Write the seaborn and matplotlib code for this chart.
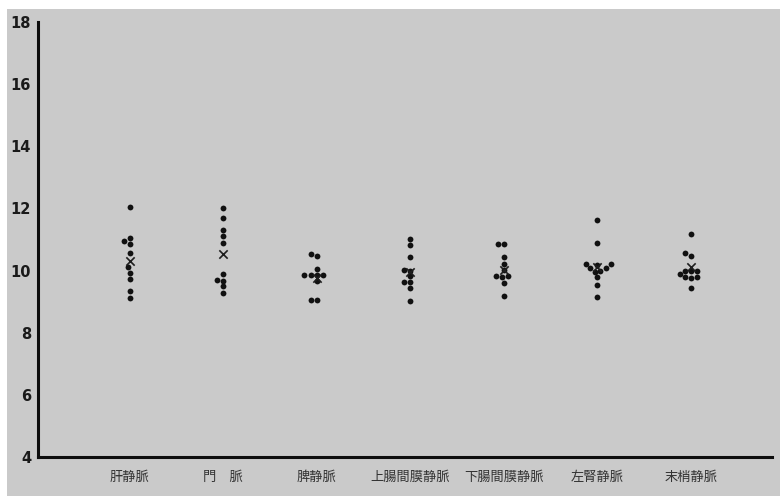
import numpy as np
import pandas as pd
import matplotlib
matplotlib.use("Agg")
import matplotlib.pyplot as plt
import seaborn as sns

# ---- data ----
categories = ["肝静脈", "門　脈", "脾静脈", "上腸間膜静脈", "下腸間膜静脈", "左腎静脈", "末梢静脈"]
hepatic = [12.06, 11.05, 10.94, 10.84, 10.56, 10.11, 9.93, 9.72, 9.35, 9.12]
portal = [12.02, 11.70, 11.29, 11.10, 10.88, 9.89, 9.70, 9.68, 9.49, 9.28]
splenic = [10.48, 10.54, 10.05, 9.86, 9.86, 9.65, 9.87, 9.85, 9.05, 9.05]
sup_mesenteric = [11.03, 10.83, 10.43, 10.02, 9.81, 10.00, 9.62, 9.62, 9.43, 9.03]
inf_mesenteric = [10.85, 10.85, 10.43, 10.21, 10.02, 9.78, 9.81, 9.81, 9.60, 9.19]
left_renal = [11.64, 10.90, 10.20, 10.20, 10.17, 10.00, 10.09, 10.09, 9.95, 9.78, 9.54, 9.16]
peripheral = [11.18, 10.58, 10.48, 10.00, 10.00, 9.98, 9.89, 9.78, 9.78, 9.76, 9.45]
means = [10.32, 10.52, 9.76, 9.97, 10.03, 10.11, 10.11]
y_ticks = [4, 6, 8, 10, 12, 14, 16, 18]
y_tick_labels = ["4", "6", "8", "10", "12", "14", "16", "18"]

series = [hepatic, portal, splenic, sup_mesenteric, inf_mesenteric, left_renal, peripheral]
df = pd.DataFrame({
    "site": [c for c, s in zip(categories, series) for _ in s],
    "value": [v for s in series for v in s],
})
mean_df = pd.DataFrame({"site": categories, "value": means})

sns.set_style("white")
plt.rcParams["font.family"] = ["Noto Sans CJK JP", "DejaVu Sans"]

paper = "#cacaca"
fig = plt.figure(figsize=(7.8, 4.96), dpi=100)
fig.patch.set_facecolor("white")
# photographed page area (white margin at top and left)
fig.patches.append(plt.Rectangle((7 / 780, 0), 1, 1 - 9 / 496, transform=fig.transFigure,
                                 facecolor=paper, edgecolor="none", zorder=-10))

ax = fig.add_axes([38 / 780, 1 - 457 / 496, (772 - 38) / 780, (457 - 22) / 496])
ax.set_facecolor("none")

sns.swarmplot(data=df, x="site", y="value", order=categories, color="#111111",
              size=4.2, linewidth=0, ax=ax)
sns.stripplot(data=mean_df, x="site", y="value", order=categories, marker="x",
              color="#1e1e1e", size=6, linewidth=1.2, jitter=False, ax=ax)

ax.set_ylim(4, 18)
ax.set_xlim(-0.98, 6.87)
ax.set_yticks(y_ticks)
ax.set_yticklabels(y_tick_labels, fontsize=10.5, fontweight="bold", color="#1a1a1a",
                   family=["DejaVu Sans"])
ax.set_xticks(range(len(categories)))
ax.set_xticklabels(categories, fontsize=9.5, color="#333333")
ax.tick_params(axis="both", length=0)
ax.tick_params(axis="y", pad=5)
ax.tick_params(axis="x", pad=10)
ax.set_xlabel("")
ax.set_ylabel("")
for side in ["top", "right"]:
    ax.spines[side].set_visible(False)
for side in ["left", "bottom"]:
    ax.spines[side].set_color("#0d0d0d")
    ax.spines[side].set_linewidth(2.2)

fig.savefig("out.png", dpi=100, facecolor=fig.get_facecolor())
